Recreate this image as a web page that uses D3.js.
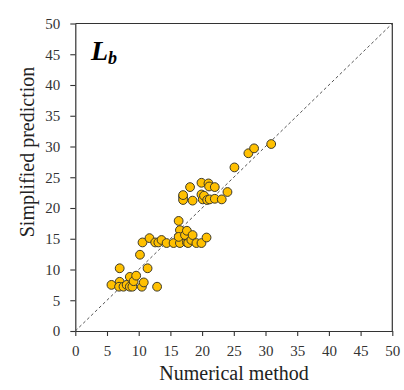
<!DOCTYPE html>
<html lang="en">
<head>
  <meta charset="UTF-8">
  <title>Lb scatter</title>
  <style>
    body {
      margin: 0;
      padding: 0;
      background: #fff;
    }
    .axis-title {
      font-family: "Liberation Serif", "Times New Roman", serif;
      font-size: 20px;
      fill: #222;
    }
    .dot {
      fill: #FFC000;
      stroke: #3d3a2a;
      stroke-width: 1;
    }
  </style>
</head>
<body>
  <svg id="chart" width="404" height="390"></svg>

  <script src="https://d3js.org/d3.v7.min.js"></script>
  <script>
    // values
    const numerical = [
      5.7, 7.0, 7.0, 6.9, 7.6, 8.1, 8.6, 8.6, 9.0, 9.2, 9.6, 10.5, 10.8, 12.9, 10.2, 11.4,
      10.6, 11.7, 12.6, 13.1, 13.6, 14.4, 15.5, 16.5, 17.6, 16.3, 16.5, 16.3, 17.3, 17.6, 17.8, 18.3, 18.5, 19.1, 19.9, 20.7,
      17.0, 17.0, 17.0, 18.1, 18.5, 19.9, 19.9, 20.1, 20.3, 20.8, 21.0, 21.1, 21.2, 22.0, 22.0, 23.1, 24.0,
      25.1, 27.3, 28.2, 30.9
    ];
    const simplified = [
      7.5, 10.2, 8.0, 7.2, 7.2, 7.5, 8.8, 7.2, 7.2, 8.1, 9.0, 7.2, 7.9, 7.2, 12.4, 10.2,
      14.4, 15.1, 14.4, 14.4, 14.8, 14.3, 14.3, 14.3, 14.4, 17.9, 16.4, 15.3, 15.6, 16.3, 14.3, 14.8, 15.6, 14.3, 14.3, 15.2,
      21.8, 21.3, 22.1, 23.4, 21.2, 24.1, 22.2, 21.4, 22.0, 21.3, 24.0, 23.5, 21.4, 23.4, 21.5, 21.4, 22.6,
      26.6, 28.9, 29.7, 30.4
    ];
    const ticks = [0, 5, 10, 15, 20, 25, 30, 35, 40, 45, 50];

    const svg = d3.select('#chart');
    const margin = { top: 23.5, right: 11.7, bottom: 59, left: 75.3 };
    const width = 404 - margin.left - margin.right;
    const height = 390 - margin.top - margin.bottom;
    const serif = '"Liberation Serif", "Times New Roman", serif';

    const g = svg.append('g')
      .attr('transform', `translate(${margin.left},${margin.top})`);

    const x = d3.scaleLinear().domain([0, 50]).range([0, width]);
    const y = d3.scaleLinear().domain([0, 50]).range([height, 0]);

    // frame (top and right)
    g.append('path')
      .attr('d', `M0,0H${width}V${height}`)
      .attr('fill', 'none')
      .attr('stroke', '#333')
      .attr('stroke-width', 1.2);

    const xAxis = g.append('g')
      .attr('transform', `translate(0,${height})`)
      .call(d3.axisBottom(x).tickValues(ticks).tickSize(5).tickSizeOuter(0).tickPadding(9));
    const yAxis = g.append('g')
      .call(d3.axisLeft(y).tickValues(ticks).tickSize(5).tickSizeOuter(0).tickPadding(10));

    [xAxis, yAxis].forEach(a => {
      a.select('.domain').attr('stroke', '#333').attr('stroke-width', 1.2);
      a.selectAll('.tick line').attr('stroke', '#333').attr('stroke-width', 1.1);
      a.selectAll('.tick text')
        .attr('fill', '#333')
        .style('font-family', serif)
        .style('font-size', '15px');
    });

    // 1:1 line
    g.append('line')
      .attr('x1', x(0)).attr('y1', y(0))
      .attr('x2', x(50)).attr('y2', y(50))
      .attr('stroke', '#555')
      .attr('stroke-width', 1)
      .attr('stroke-dasharray', '3,2.5');

    g.selectAll('.dot')
      .data(numerical.map((d, i) => [d, simplified[i]]))
      .enter()
      .append('circle')
      .attr('class', 'dot')
      .attr('cx', d => x(d[0]))
      .attr('cy', d => y(d[1]))
      .attr('r', 4.4);

    // axis titles
    svg.append('text')
      .attr('class', 'axis-title')
      .attr('x', 234)
      .attr('y', 380)
      .attr('text-anchor', 'middle')
      .text('Numerical method');

    svg.append('text')
      .attr('class', 'axis-title')
      .attr('transform', 'translate(34,152) rotate(-90)')
      .attr('text-anchor', 'middle')
      .text('Simplified prediction');

    // panel label
    const lab = svg.append('text')
      .attr('x', 91)
      .attr('y', 60)
      .style('font-family', serif)
      .style('font-weight', 'bold')
      .style('font-style', 'italic')
      .style('fill', '#000');
    lab.append('tspan').style('font-size', '28px').text('L');
    lab.append('tspan').style('font-size', '18px').attr('dy', 4).text('b');
  </script>
</body>
</html>
